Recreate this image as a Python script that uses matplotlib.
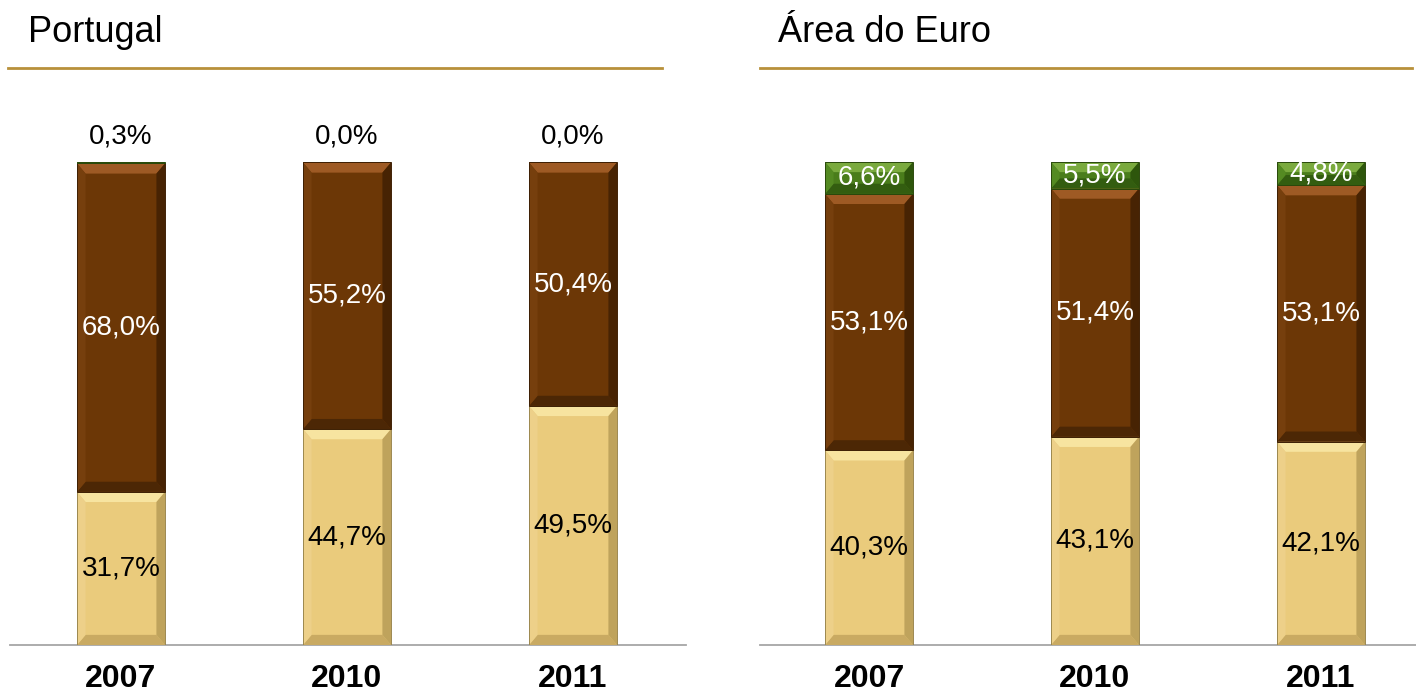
import matplotlib.pyplot as plt
from matplotlib.patches import Polygon, Rectangle
from matplotlib.lines import Line2D

plt.rcParams['font.family'] = ['Liberation Sans', 'DejaVu Sans']

years = ['2007', '2010', '2011']
panels = ['Portugal', 'Área do Euro']
# bottom, middle, top shares (%)
pt_light = [31.7, 44.7, 49.5]
pt_dark = [68.0, 55.2, 50.4]
pt_green = [0.3, 0.0, 0.0]
eu_light = [40.3, 43.1, 42.1]
eu_dark = [53.1, 51.4, 53.1]
eu_green = [6.6, 5.5, 4.8]

# face, top, bottom, left, right, edge
light_pal = ('#EACB7C', '#F7E4A0', '#C9AA62', '#EDD089', '#BFA35C', '#9C8850')
dark_pal = ('#6C3706', '#9E5A24', '#4C2705', '#763F0D', '#472303', '#3E2004')
green_pal = ('#4A7D1B', '#7AAA3E', '#335D10', '#548A22', '#2E560C', '#2A4A0C')


def bevel_bar(ax, x, bottom, height, width, pal, bx=0.038, by=2.1):
	if height <= 0:
		return
	face, top, bot, left, right, edge = pal
	x0, x1 = x - width / 2, x + width / 2
	y0, y1 = bottom, bottom + height
	byy = min(by, height / 2)
	bxx = bx if height / 2 > by else bx * (height / 2) / by
	ix0, ix1 = x0 + bxx, x1 - bxx
	iy0, iy1 = y0 + byy, y1 - byy
	ax.add_patch(Rectangle((x0, y0), width, height, facecolor=face, edgecolor='none', zorder=2))
	ax.add_patch(Polygon([(x0, y1), (x1, y1), (ix1, iy1), (ix0, iy1)], closed=True,
		facecolor=top, edgecolor='none', zorder=3))
	ax.add_patch(Polygon([(x0, y0), (x1, y0), (ix1, iy0), (ix0, iy0)], closed=True,
		facecolor=bot, edgecolor='none', zorder=3))
	ax.add_patch(Polygon([(x0, y0), (x0, y1), (ix0, iy1), (ix0, iy0)], closed=True,
		facecolor=left, edgecolor='none', zorder=3))
	ax.add_patch(Polygon([(x1, y0), (x1, y1), (ix1, iy1), (ix1, iy0)], closed=True,
		facecolor=right, edgecolor='none', zorder=3))
	ax.add_patch(Rectangle((x0, y0), width, height, facecolor='none',
		edgecolor=edge, lw=0.7, zorder=4))


def fmt(v):
	return ('%.1f%%' % v).replace('.', ',')


fig = plt.figure(figsize=(14.16, 6.95), dpi=100)
W, H = 1416, 695

specs = [
	(pt_light, pt_dark, pt_green, 10, 686, 121, 8, 662, 28),
	(eu_light, eu_dark, eu_green, 760, 1416, 869, 760, 1412, 778),
]

for idx, (lt, dk, gr, ax_l, ax_r, c0, ln_l, ln_r, tx) in enumerate(specs):
	step = 226.0
	ax = fig.add_axes([ax_l / W, 50 / H, (ax_r - ax_l) / W, 483 / H])
	ax.set_xlim((ax_l - c0) / step, (ax_r - c0) / step)
	ax.set_ylim(0, 100)
	for s in ['top', 'right', 'left']:
		ax.spines[s].set_visible(False)
	ax.spines['bottom'].set_color('#A6A6A6')
	ax.spines['bottom'].set_linewidth(1.3)
	ax.set_yticks([])
	ax.set_xticks(range(len(years)))
	ax.set_xticklabels(years, fontsize=23, fontweight='bold')
	ax.tick_params(axis='x', length=0, pad=14)
	width = 88 / step
	for i in range(len(years)):
		bevel_bar(ax, i, 0, lt[i], width, light_pal)
		bevel_bar(ax, i, lt[i], dk[i], width, dark_pal)
		bevel_bar(ax, i, lt[i] + dk[i], gr[i], width, green_pal)
		ax.text(i, lt[i] / 2, fmt(lt[i]), ha='center', va='center', fontsize=20, color='black', zorder=5)
		ax.text(i, lt[i] + dk[i] / 2, fmt(dk[i]), ha='center', va='center', fontsize=20, color='white', zorder=5)
		if gr[i] >= 3:
			ax.text(i, lt[i] + dk[i] + gr[i] / 2, fmt(gr[i]), ha='center', va='center',
				fontsize=20, color='white', zorder=5)
		else:
			ax.text(i, 105.2, fmt(gr[i]), ha='center', va='center', fontsize=20,
				color='black', zorder=5, clip_on=False)
	fig.text(tx / W, 1 - 32 / H, panels[idx], ha='left', va='center', fontsize=26)
	fig.add_artist(Line2D([ln_l / W, ln_r / W], [1 - 68 / H, 1 - 68 / H], color='#B8903A', lw=2))

fig.savefig('out.png', dpi=100)
